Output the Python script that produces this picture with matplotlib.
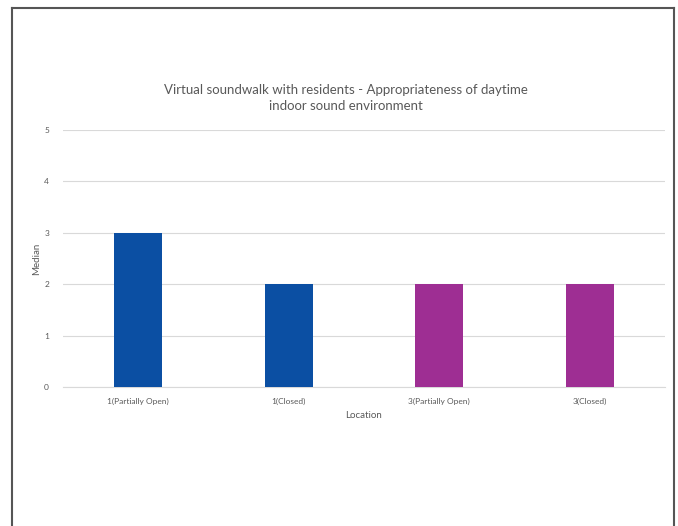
import matplotlib.pyplot as plt
from matplotlib.lines import Line2D

locations = ["1(Partially Open)", "1(Closed)", "3(Partially Open)", "3(Closed)"]
medians = [3, 2, 2, 2]
bar_colors = ["#0b4fa3", "#0b4fa3", "#9e2e93", "#9e2e93"]
y_ticks = [0, 1, 2, 3, 4, 5]

plt.rcParams['font.family'] = ['Lato', 'DejaVu Sans']

fig = plt.figure(figsize=(6.78, 5.26), dpi=100)
ax = fig.add_axes([63/678, 1 - 387/526, (665 - 63)/678, (387 - 130)/526])

x = range(len(locations))
ax.bar(x, medians, width=0.32, color=bar_colors, zorder=3)

ax.set_xlim(-0.5, len(locations) - 0.5)
ax.set_ylim(0, 5)
ax.set_yticks(y_ticks)
ax.set_xticks(list(x))
ax.set_xticklabels(locations)
ax.grid(axis='y', color='#d9d9d9', linewidth=0.8, zorder=0)
for s in ['top', 'right', 'left']:
    ax.spines[s].set_visible(False)
ax.spines['bottom'].set_color('#d9d9d9')
ax.spines['bottom'].set_linewidth(0.8)
ax.tick_params(axis='both', length=0, labelsize=6, labelcolor='#595959')
ax.tick_params(axis='x', pad=8)
ax.tick_params(axis='y', pad=10)

ax.set_xlabel("Location", fontsize=7, color='#595959', labelpad=4)
ax.set_ylabel("Median", fontsize=7, color='#595959', labelpad=2)

fig.text(346/678, 1 - 98/526,
         "Virtual soundwalk with residents - Appropriateness of daytime\nindoor sound environment",
         ha='center', va='center', fontsize=9.5, color='#595959', linespacing=1.5)

# outer frame (open at the bottom)
frame_kw = dict(color='#555555', linewidth=1.5, transform=fig.transFigure)
fig.add_artist(Line2D([12/678, 12/678], [0, 1 - 8/526], **frame_kw))
fig.add_artist(Line2D([12/678, 674/678], [1 - 8/526, 1 - 8/526], **frame_kw))
fig.add_artist(Line2D([674/678, 674/678], [0, 1 - 8/526], **frame_kw))

fig.savefig("out.png", dpi=100)
